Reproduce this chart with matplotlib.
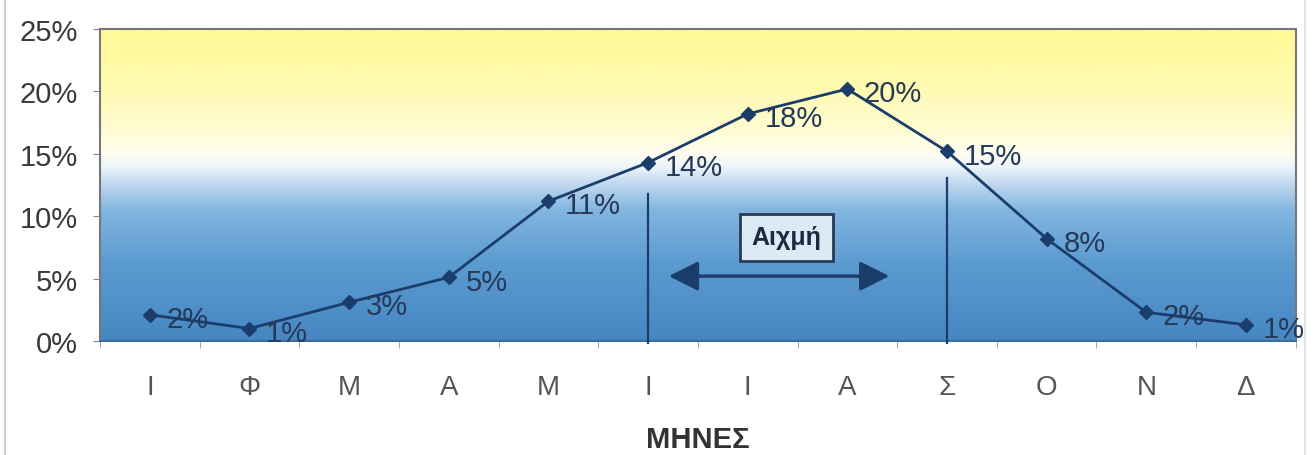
import numpy as np
import matplotlib
matplotlib.use("Agg")
import matplotlib.pyplot as plt
from matplotlib.colors import LinearSegmentedColormap
from matplotlib.lines import Line2D
from matplotlib.patches import FancyArrowPatch

plt.rcParams['font.family'] = ['Liberation Sans', 'DejaVu Sans']

months = ['Ι', 'Φ', 'Μ', 'Α', 'Μ', 'Ι', 'Ι', 'Α', 'Σ', 'Ο', 'Ν', 'Δ']
share = [2.1, 1.0, 3.1, 5.1, 11.2, 14.3, 18.2, 20.2, 15.2, 8.2, 2.3, 1.3]
y_ticks = [0, 5, 10, 15, 20, 25]
peak_start, peak_end = 5, 8
peak_label = 'Αιχμή'

navy = '#1b3d6b'
label_col = '#253a58'

fig = plt.figure(figsize=(13.14, 4.56), dpi=100)
ax = fig.add_axes([0.0761, 0.25, 0.910, 0.684])

x = np.arange(len(months))
ax.set_xlim(-0.5, len(months) - 0.5)
ax.set_ylim(0, 25)

# sky-style background: blue at the bottom, white band, yellow at the top
stops = [
    (0.00, (70, 135, 195)),
    (0.25, (92, 155, 208)),
    (0.42, (130, 182, 224)),
    (0.50, (190, 215, 238)),
    (0.56, (238, 244, 250)),
    (0.60, (255, 254, 240)),
    (0.68, (255, 252, 210)),
    (0.82, (255, 250, 175)),
    (1.00, (255, 250, 150)),
]
cmap = LinearSegmentedColormap.from_list(
    'sky', [(p, tuple(c / 255 for c in rgb)) for p, rgb in stops])
grad = np.linspace(0, 1, 512).reshape(-1, 1)
ax.imshow(grad, cmap=cmap, aspect='auto', origin='lower',
          extent=[-0.5, len(months) - 0.5, 0, 25], zorder=0)

ax.plot(x, share, color=navy, lw=2, marker='D', ms=7, mec=navy, mfc=navy, zorder=4)
for xi, v in zip(x, share):
    ax.annotate(f'{v:.0f}%', (xi, v), xytext=(12, -3), textcoords='offset points',
                ha='left', va='center', fontsize=21, color=label_col, zorder=5,
                annotation_clip=False)

# peak season markers
ax.plot([peak_start, peak_start], [-0.2, 11.8], color=navy, lw=1.6, zorder=3, clip_on=False)
ax.plot([peak_end, peak_end], [-0.2, 13.1], color=navy, lw=1.6, zorder=3, clip_on=False)
arrow = FancyArrowPatch((5.18, 5.2), (7.45, 5.2), arrowstyle='<|-|>,head_length=1.0,head_width=0.5',
                        mutation_scale=18, color=navy, lw=2.4, zorder=4)
ax.add_patch(arrow)
ax.text(6.39, 8.3, peak_label, ha='center', va='center', fontsize=18, fontweight='bold',
        color='#1c2a40', zorder=5,
        bbox=dict(boxstyle='square,pad=0.45', fc='#dde9f5', ec='#2a3a55', lw=2))

ax.set_yticks(y_ticks)
ax.set_yticklabels([f'{t}%' for t in y_ticks], fontsize=21, color='#3a3a3a')
ax.set_xticks(x)
ax.set_xticklabels(months, fontsize=20, color='#555555')
ax.set_xticks(np.arange(-0.5, len(months), 1), minor=True)
ax.tick_params(axis='x', which='major', length=0, pad=24)
ax.tick_params(axis='x', which='minor', length=5, color='#999999', direction='out')
ax.tick_params(axis='y', length=5, color='#888888', direction='out', pad=11)
ax.set_xlabel('ΜΗΝΕΣ', fontsize=21, fontweight='bold', color='#333333', labelpad=18)

for side in ['top', 'left', 'right']:
    ax.spines[side].set_color('#777777')
    ax.spines[side].set_linewidth(1.5)
ax.spines['bottom'].set_color('#3a6f9f')
ax.spines['bottom'].set_linewidth(1.5)

# page edges
fig.add_artist(Line2D([0.004, 0.004], [0, 1], color='#cccccc', lw=1.5))
fig.add_artist(Line2D([0.993, 0.993], [0, 1], color='#e2e2e2', lw=1.5))

fig.savefig('out.png', dpi=100)
